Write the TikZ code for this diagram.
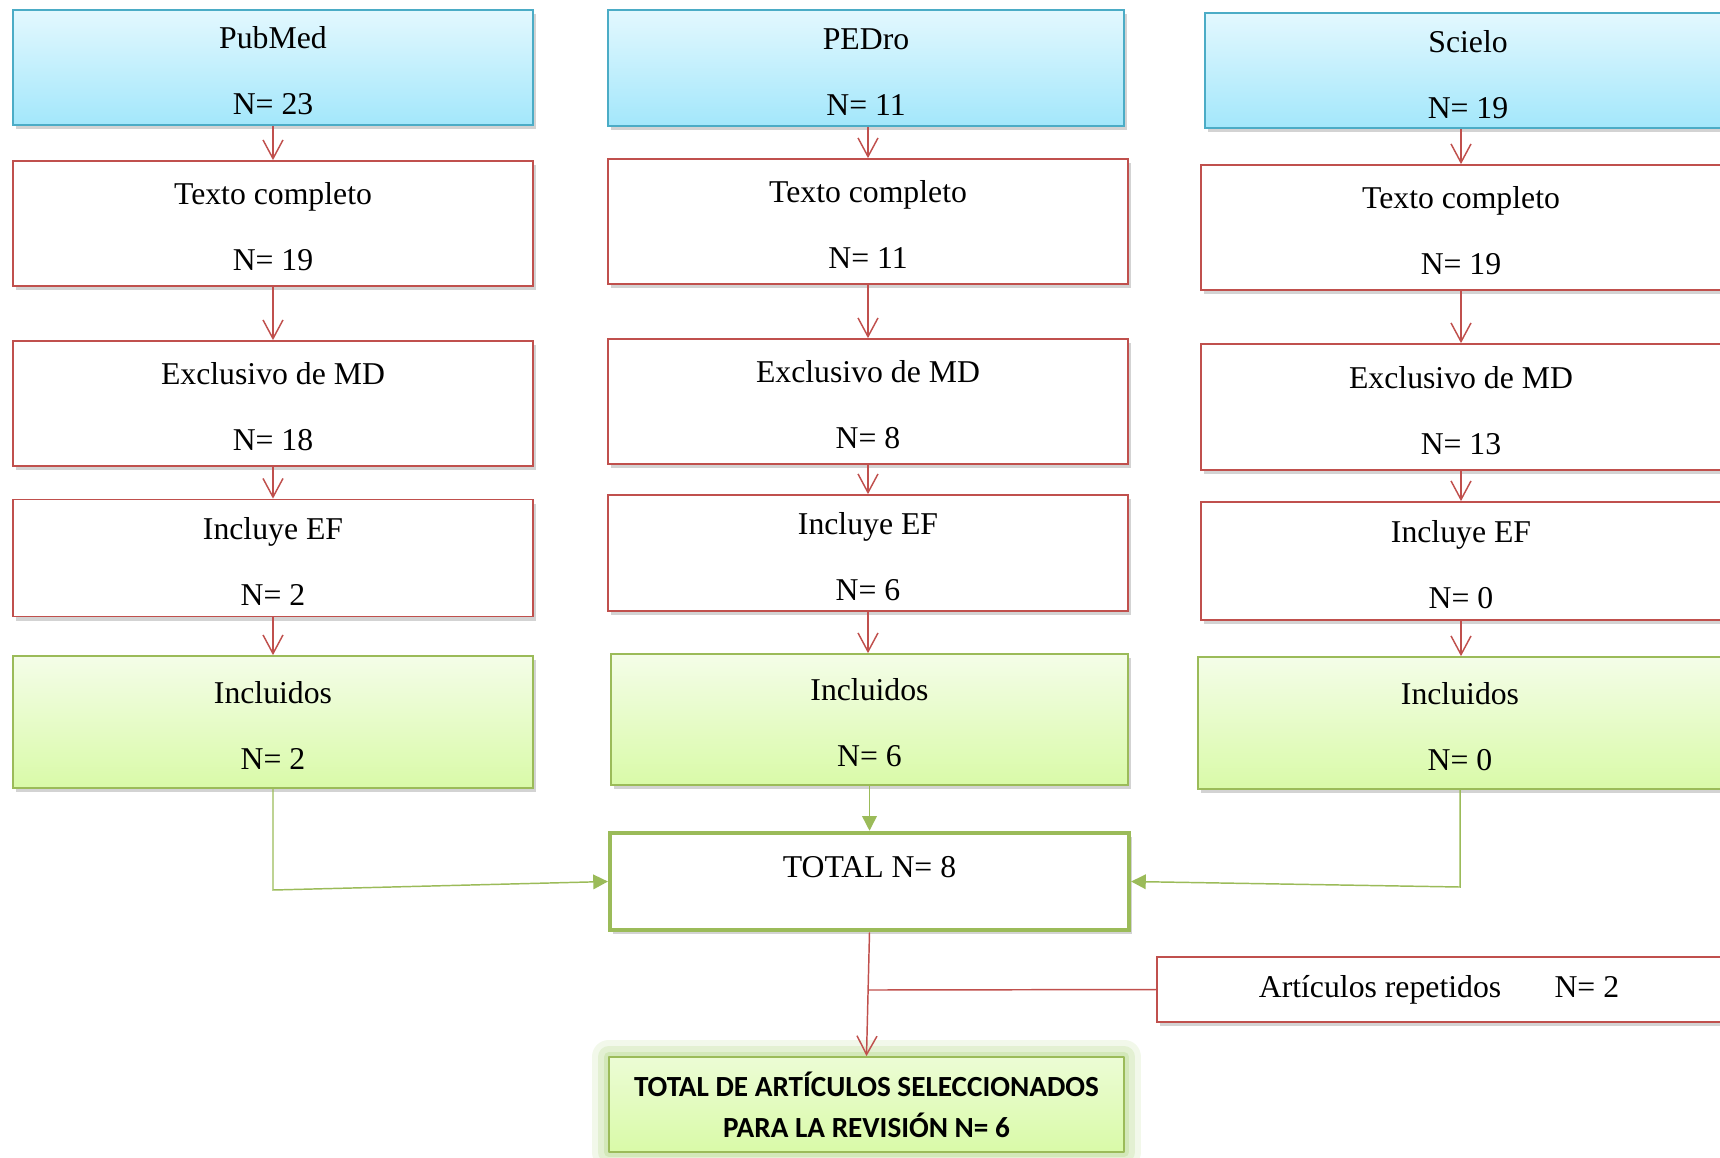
\documentclass[tikz,border=0pt]{standalone}
\usepackage{fontspec}
\setmainfont{Liberation Serif}
\newfontfamily\calibfont{Carlito}
\usetikzlibrary{arrows.meta,shadows}
\definecolor{blueborder}{HTML}{4BACC6}
\definecolor{bluetop}{HTML}{E3F8FE}
\definecolor{bluebot}{HTML}{A3E7FB}
\definecolor{redborder}{HTML}{C0504D}
\definecolor{greenborder}{HTML}{9BBB59}
\definecolor{greentop}{HTML}{F4FDE8}
\definecolor{greenbot}{HTML}{D9FAA8}
\definecolor{glowgreen}{HTML}{B5D98A}
\newcommand\tstrut{\rule{0pt}{21.5pt}}
\tikzset{
  base/.style={draw, line width=1.3pt, align=center, inner sep=0pt,
    font=\fontsize{23.8}{49.5}\selectfont,
    drop shadow={shadow xshift=2pt, shadow yshift=-3pt, opacity=0.35}},
  srcbox/.style={base, draw=blueborder, top color=bluetop, bottom color=bluebot},
  redbox/.style={base, draw=redborder, fill=white},
  incbox/.style={base, draw=greenborder, top color=greentop, bottom color=greenbot},
  totbox/.style={base, draw=greenborder, line width=3.4pt, fill=white, text depth=22pt},
  finbox/.style={draw=greenborder, line width=1.3pt, line join=round,
    preaction={draw=glowgreen, line width=26pt, draw opacity=0.18},
    preaction={draw=glowgreen, line width=17pt, draw opacity=0.25},
    preaction={draw=glowgreen, line width=8pt, draw opacity=0.35},
    top color=greentop!70!greenbot, bottom color=greenbot, align=center, inner sep=0pt,
    font=\calibfont\bfseries\fontsize{21.9}{30.8}\selectfont},
  redarrow/.style={draw=redborder, line width=1.1pt, -{Straight Barb[length=14pt,width=15pt]}},
  redline/.style={draw=redborder, line width=1.1pt},
  greenarrow/.style={draw=greenborder, line width=1.1pt, -{Triangle[length=11pt,width=11pt]}},
  greenline/.style={draw=greenborder, line width=1.1pt},
}
\begin{document}
\begin{tikzpicture}[x=0.75pt, y=-0.75pt]
\useasboundingbox (0,0) rectangle (1720,1157);
\clip (0,0) rectangle (1720,1157);
% column 1
\node[srcbox, minimum width=390pt, minimum height=86.25pt] (pm) at (273,67.5) {\tstrut PubMed\\N= 23};
\node[redbox, minimum width=390pt, minimum height=93.75pt] (t1) at (273,223.5) {\tstrut Texto completo\\N= 19};
\node[redbox, minimum width=390pt, minimum height=93.75pt] (e1) at (273,403.5) {\tstrut Exclusivo de MD\\N= 18};
\node[redbox, minimum width=390pt, minimum height=87.75pt] (i1) at (273,558) {\tstrut Incluye EF\\N= 2};
\node[incbox, minimum width=390pt, minimum height=99pt] (n1) at (273,722) {\tstrut Incluidos\\N= 2};
% column 2
\node[srcbox, minimum width=387pt, minimum height=87pt] (pe) at (866,68) {\tstrut PEDro\\N= 11};
\node[redbox, minimum width=390pt, minimum height=93.75pt] (t2) at (868,221.5) {\tstrut Texto completo\\N= 11};
\node[redbox, minimum width=390pt, minimum height=93.75pt] (e2) at (868,401.5) {\tstrut Exclusivo de MD\\N= 8};
\node[redbox, minimum width=390pt, minimum height=87pt] (i2) at (868,553) {\tstrut Incluye EF\\N= 6};
\node[incbox, minimum width=387.75pt, minimum height=98.25pt] (n2) at (869.5,719.5) {\tstrut Incluidos\\N= 6};
% column 3
\node[srcbox, minimum width=394.5pt, minimum height=86.25pt] (sc) at (1468,70.5) {\rule{0pt}{23pt}Scielo\\N= 19};
\node[redbox, minimum width=390pt, minimum height=93.75pt] (t3) at (1461,227.5) {\tstrut Texto completo\\N= 19};
\node[redbox, minimum width=390pt, minimum height=94.5pt] (e3) at (1461,407) {\tstrut Exclusivo de MD\\N= 13};
\node[redbox, minimum width=390pt, minimum height=88.5pt] (i3) at (1461,561) {\tstrut Incluye EF\\N= 0};
\node[incbox, minimum width=393pt, minimum height=99pt] (n3) at (1460,723) {\tstrut Incluidos\\N= 0};
% totals
\node[totbox, minimum width=389pt, minimum height=72.75pt] (tot) at (869.5,881.5) {TOTAL N= 8};
\node[redbox, minimum width=423pt, minimum height=48.75pt] (art) at (1439,989.5) {Artículos repetidos\hspace{40pt}N= 2};
\node[finbox, minimum width=386.25pt, minimum height=71.25pt] (fin) at (866.5,1104.5) {TOTAL DE ARTÍCULOS SELECCIONADOS\\PARA LA REVISIÓN N= 6};
% arrows column 1
\draw[redarrow] (pm.south) -- (t1.north);
\draw[redarrow] (t1.south) -- (e1.north);
\draw[redarrow] (e1.south) -- (i1.north);
\draw[redarrow] (i1.south) -- (n1.north);
% arrows column 2
\draw[redarrow] (t2.north |- pe.south) -- (t2.north);
\draw[redarrow] (t2.south) -- (e2.north);
\draw[redarrow] (e2.south) -- (i2.north);
\draw[redarrow] (i2.south) -- (i2.south |- n2.north);
% arrows column 3
\draw[redarrow] (t3.north |- sc.south) -- (t3.north);
\draw[redarrow] (t3.south) -- (e3.north);
\draw[redarrow] (e3.south) -- (i3.north);
\draw[redarrow] (i3.south) -- (i3.south |- n3.north);
% to total
\coordinate (c1) at (273,890);
\coordinate (c3) at (1460,887);
\draw[greenarrow] (n1.south) -- (c1) -- (tot.west);
\draw[greenarrow] (n3.south) -- (c3) -- (tot.east);
\draw[greenarrow] (n2.south) -- (tot.north);
% to final
\draw[redarrow] (tot.south) -- (fin.north);
\coordinate (br) at (869,990);
\draw[redline] (br) -- (art.west);
\end{tikzpicture}
\end{document}
